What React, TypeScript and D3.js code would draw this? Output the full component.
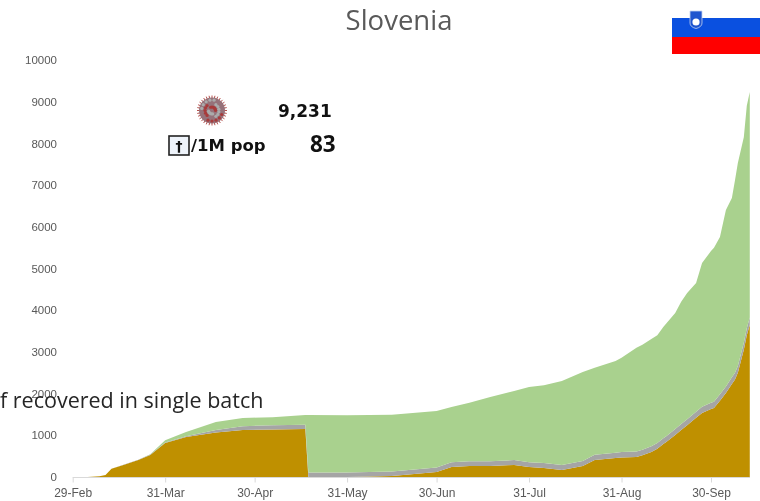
import { useEffect, useRef } from "react";
import * as d3 from "d3";

const dates = ["2020-03-05","2020-03-09","2020-03-11","2020-03-13","2020-03-17","2020-03-22","2020-03-26","2020-03-31","2020-04-07","2020-04-17","2020-04-26","2020-05-06","2020-05-17","2020-05-18","2020-05-31","2020-06-15","2020-06-30","2020-07-05","2020-07-11","2020-07-18","2020-07-26","2020-07-31","2020-08-05","2020-08-11","2020-08-18","2020-08-22","2020-08-29","2020-08-31","2020-09-05","2020-09-07","2020-09-10","2020-09-12","2020-09-14","2020-09-15","2020-09-18","2020-09-20","2020-09-22","2020-09-25","2020-09-27","2020-09-30","2020-10-01","2020-10-03","2020-10-05","2020-10-07","2020-10-08","2020-10-09","2020-10-11","2020-10-12","2020-10-13"];
const active = [0,20,50,200,290,410,530,815,960,1070,1130,1140,1150,0,0,24,120,240,264,264,290,240,216,170,264,408,456,470,480,520,600,680,790,840,1010,1130,1240,1420,1535,1630,1655,1830,2015,2230,2330,2500,3050,3400,3650];
const deaths = [0,0,0,0,2,5,10,15,20,60,90,100,105,106,108,110,110,111,112,113,115,116,118,120,122,125,128,130,132,133,135,136,138,138,140,142,144,146,148,150,152,155,158,160,162,164,168,170,172];
const recovered = [0,0,0,0,0,0,5,50,100,190,195,195,232,1381,1372,1356,1350,1329,1404,1543,1655,1804,1866,2010,2134,2087,2196,2260,2488,2517,2575,2584,2672,2702,2780,2928,3026,3084,3447,3640,3693,3770,4227,4300,4608,4866,4932,5330,5409];

const xTickDates = ["2020-02-29","2020-03-31","2020-04-30","2020-05-31","2020-06-30","2020-07-31","2020-08-31","2020-09-30"];
const yTicks = [0,1000,2000,3000,4000,5000,6000,7000,8000,9000,10000];
const seriesKeys = ["active","deaths","recovered"];
const seriesColors = ["#bf9000","#a5a5a5","#a9d18e"];

const W = 760, H = 501;
const parse = d3.utcParse("%Y-%m-%d");

export default function App() {
  const ref = useRef<SVGSVGElement>(null);

  useEffect(() => {
    const svg = d3.select(ref.current);
    svg.selectAll("*").remove();

    const x = d3.scaleUtc()
      .domain([parse("2020-02-29")!, parse("2020-09-30")!])
      .range([72.7, 711]);
    const y = d3.scaleLinear().domain([0, 10000]).range([477, 60]);

    const rows = dates.map((d, i) => ({
      date: parse(d)!,
      active: active[i],
      deaths: deaths[i],
      recovered: recovered[i],
    }));
    const stacked = d3.stack<any>().keys(seriesKeys)(rows);
    const area = d3.area<any>()
      .x((d) => x(d.data.date))
      .y0((d) => y(d[0]))
      .y1((d) => y(d[1]));

    svg.append("g").selectAll("path")
      .data(stacked)
      .join("path")
      .attr("fill", (_, i) => seriesColors[i])
      .attr("d", area);

    // axes
    const xAxis = d3.axisBottom(x)
      .tickValues(xTickDates.map((d) => parse(d)!))
      .tickFormat((d) => d3.utcFormat("%-d-%b")(d as Date))
      .tickSize(5)
      .tickPadding(6);
    const gx = svg.append("g").attr("transform", "translate(0,477.5)").call(xAxis);
    gx.select(".domain").attr("d", "M72.7,0H750").attr("stroke", "#d9d9d9");
    gx.selectAll(".tick line").attr("stroke", "#d9d9d9");
    gx.selectAll("text")
      .attr("fill", "#595959")
      .attr("font-family", "Liberation Sans")
      .attr("font-size", 12);

    const yAxis = d3.axisLeft(y).tickValues(yTicks).tickFormat((d) => String(d)).tickSize(0).tickPadding(0);
    const gy = svg.append("g").attr("transform", "translate(57,0)").call(yAxis);
    gy.select(".domain").remove();
    gy.selectAll("text")
      .attr("fill", "#595959")
      .attr("font-family", "Liberation Sans")
      .attr("font-size", 11.5);

    // title
    svg.append("text")
      .attr("x", 399).attr("y", 30)
      .attr("text-anchor", "middle")
      .attr("fill", "#595959")
      .attr("font-family", "Open Sans")
      .attr("font-size", 27.5)
      .text("Slovenia");

    // note that runs off the left edge
    svg.append("text")
      .attr("x", 0).attr("y", 408)
      .attr("fill", "#262626")
      .attr("font-family", "Open Sans")
      .attr("font-size", 21.5)
      .text("f recovered in single batch");

    // flag
    const flag = svg.append("g");
    flag.append("rect").attr("x", 672).attr("y", 0).attr("width", 88).attr("height", 18).attr("fill", "#ffffff");
    flag.append("rect").attr("x", 672).attr("y", 18).attr("width", 88).attr("height", 19).attr("fill", "#0a50e0");
    flag.append("rect").attr("x", 672).attr("y", 37).attr("width", 88).attr("height", 17).attr("fill", "#ff0000");
    flag.append("path")
      .attr("d", "M690,11H702V23Q702,27 696,28.5Q690,27 690,23Z")
      .attr("fill", "#1f55cf")
      .attr("stroke", "#c4d2f0")
      .attr("stroke-width", 0.8);
    flag.append("circle").attr("cx", 696).attr("cy", 22).attr("r", 3.6).attr("fill", "#ffffff");

    // virus icon
    const virus = svg.append("g").attr("transform", "translate(212,110.5)");
    const spikes = d3.range(0, Math.PI * 2, Math.PI / 16);
    virus.selectAll("line").data(spikes).join("line")
      .attr("x1", (a) => Math.cos(a) * 12).attr("y1", (a) => Math.sin(a) * 12)
      .attr("x2", (a) => Math.cos(a) * 15).attr("y2", (a) => Math.sin(a) * 15)
      .attr("stroke", "#b5504c").attr("stroke-width", 1);
    virus.append("circle").attr("r", 13).attr("fill", "#96727a");
    virus.selectAll("circle.spot").data(spikes).join("circle")
      .attr("class", "spot")
      .attr("cx", (a, i) => Math.cos(a * 5) * (i % 3 === 0 ? 3.5 : i % 3 === 1 ? 7 : 10.5))
      .attr("cy", (a, i) => Math.sin(a * 5) * (i % 3 === 0 ? 3.5 : i % 3 === 1 ? 7 : 10.5))
      .attr("r", 1.6)
      .attr("fill", (_, i) => (i % 2 ? "#ababab" : "#a83a3a"));

    // stats block
    const bold = "DejaVu Sans";
    svg.append("text").attr("x", 278).attr("y", 117)
      .attr("font-family", bold).attr("font-weight", "bold").attr("font-size", 17)
      .attr("fill", "#111").text("9,231");
    svg.append("rect").attr("x", 169).attr("y", 136).attr("width", 20).attr("height", 19)
      .attr("fill", "#eef3fa").attr("stroke", "#222").attr("stroke-width", 1.6);
    svg.append("text").attr("x", 179).attr("y", 151).attr("text-anchor", "middle")
      .attr("font-family", bold).attr("font-weight", "bold").attr("font-size", 14)
      .attr("fill", "#111").text("†");
    svg.append("text").attr("x", 191).attr("y", 151)
      .attr("font-family", bold).attr("font-weight", "bold").attr("font-size", 16.5)
      .attr("fill", "#111").text("/1M pop");
    svg.append("text").attr("x", 310).attr("y", 152)
      .attr("font-family", "Open Sans").attr("font-weight", "bold").attr("font-size", 22.5)
      .attr("fill", "#111").text("83");
  }, []);

  return (
    <svg
      ref={ref}
      width={W}
      height={H}
      style={{ position: "absolute", left: 0, top: 0, background: "#fff", filter: "blur(0.5px)" }}
    />
  );
}
